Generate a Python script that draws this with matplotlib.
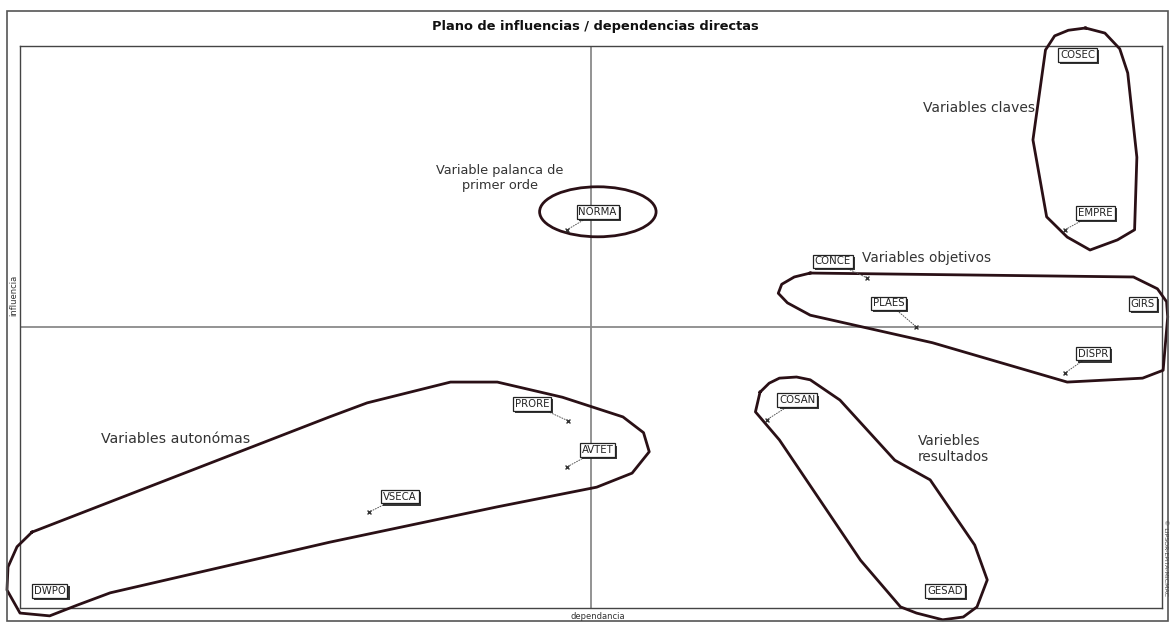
# Plano de influencias / dependencias directas (tipo MICMAC)
import matplotlib.pyplot as plt
import matplotlib.patheffects as pe
from matplotlib.patches import Ellipse, Rectangle

# Variables y su posición (dependencia, influencia) en % de la escala
variables = ["COSEC", "EMPRE", "NORMA", "CONCE", "PLAES", "GIRS", "DISPR",
             "COSAN", "GESAD", "PRORE", "AVTET", "VSECA", "DWPO"]
dependencia = [92.6, 91.5, 47.9, 74.2, 78.5, 98.3, 91.5, 65.4, 81.0, 48.0, 47.9, 30.6, 2.6]
influencia = [98.4, 67.3, 67.3, 58.7, 50.0, 54.1, 41.8, 33.5, 3.0, 33.3, 25.1, 17.1, 3.0]

# desplazamiento de la etiqueta respecto al punto (en puntos)
desplaz = [(0, 0), (22, 12), (22, 13), (-25, 12), (-20, 17), (0, 0), (20, 14),
           (22, 14), (0, 0), (-26, 12), (22, 12), (22, 11), (0, 0)]

# Contornos de los grupos (dibujados a mano en el original)
claves_x = [93.3, 95.0, 96.3, 97.0, 97.8, 97.6, 96.1, 93.7, 91.7, 89.9, 88.7, 89.8, 90.6, 91.8, 93.3]
claves_y = [103.2, 102.3, 99.5, 95.2, 80.2, 67.3, 65.5, 63.7, 66.0, 69.6, 83.3, 99.3, 101.8, 102.8, 103.2]

objetivos_x = [69.2, 97.5, 99.6, 100.4, 100.5, 100.1, 98.3, 91.7, 79.9, 69.2, 67.2, 66.4, 66.7, 67.8, 69.2]
objetivos_y = [59.6, 58.9, 56.8, 54.5, 51.8, 42.3, 40.9, 40.2, 47.2, 52.1, 54.3, 56.0, 57.6, 58.9, 59.6]

autonomas_x = [1.05, -0.26, -1.05, -1.14, 0.0, 2.6, 5.0, 7.9, 27.1, 41.8, 50.5, 53.6,
               55.1, 54.6, 52.8, 47.5, 41.8, 37.7, 30.4, 27.1, 1.05]
autonomas_y = [13.5, 10.9, 7.3, 3.2, -0.9, -1.4, 0.5, 2.7, 11.7, 18.0, 21.5, 24.0,
               27.8, 31.2, 34.0, 37.5, 40.2, 40.2, 36.5, 34.0, 13.5]

resultados_x = [64.8, 65.6, 66.5, 68.0, 69.2, 71.8, 76.6, 79.7, 83.6, 84.7, 83.8, 82.6, 80.8,
                78.5, 77.1, 73.6, 66.5, 64.4, 64.8]
resultados_y = [38.4, 40.0, 40.9, 41.1, 40.6, 37.0, 26.3, 22.8, 11.2, 5.0, 0.2, -1.6, -2.1,
                -0.9, 0.2, 8.5, 29.9, 34.9, 38.4]

# elipse de la variable palanca (centro, ancho, alto)
palanca_centro = (50.6, 70.5)
palanca_tam = (10.2, 8.9)

color_contorno = "#2a1016"
color_texto = "#333333"

fig = plt.figure(figsize=(11.72, 6.23), dpi=100)
fig.patch.set_facecolor("white")

# marco exterior
fig.patches.append(Rectangle((0.006, 0.003), 0.991, 0.979, transform=fig.transFigure,
                             fill=False, ec="#555555", lw=1.2))

ax = fig.add_axes([0.01706, 0.02408, 0.97440, 0.90209])
ax.set_xlim(0, 100)
ax.set_ylim(0, 100)
ax.set_xticks([])
ax.set_yticks([])
for s in ax.spines.values():
    s.set_color("#444444")
    s.set_linewidth(1.0)

# ejes centrales
ax.axvline(50, color="#8a8a8a", lw=1.3, zorder=1)
ax.axhline(50, color="#8a8a8a", lw=1.3, zorder=1)

# contornos de los grupos
for cx, cy in [(claves_x, claves_y), (objetivos_x, objetivos_y),
               (autonomas_x, autonomas_y), (resultados_x, resultados_y)]:
    ax.plot(cx, cy, color=color_contorno, lw=2.0, solid_joinstyle="round",
            clip_on=False, zorder=3)
ax.add_patch(Ellipse(palanca_centro, palanca_tam[0], palanca_tam[1], fill=False,
                     ec=color_contorno, lw=2.0, zorder=3))

# puntos y etiquetas
ax.scatter(dependencia, influencia, s=8, color="#333333", marker="x", lw=1, zorder=4)
for nombre, x, y, (dx, dy) in zip(variables, dependencia, influencia, desplaz):
    flecha = None
    if (dx, dy) != (0, 0):
        flecha = dict(arrowstyle="-", lw=0.7, color="#555555", ls=":",
                      shrinkA=0, shrinkB=1)
    t = ax.annotate(nombre, xy=(x, y), xytext=(dx, dy), textcoords="offset points",
                    ha="center", va="center", fontsize=7.3, color="#222222",
                    bbox=dict(boxstyle="square,pad=0.18", fc="white", ec="#222222", lw=0.9),
                    arrowprops=flecha, zorder=5, annotation_clip=False)
    t.get_bbox_patch().set_path_effects([
        pe.withSimplePatchShadow(offset=(1.5, -1.5), shadow_rgbFace="#222222", alpha=0.9)])

# nombres de los grupos
ax.text(88.9, 88.9, "Variables claves", fontsize=10, color=color_texto, ha="right", va="center")
ax.text(42.0, 76.5, "Variable palanca de\nprimer orde", fontsize=9.3, color=color_texto,
        ha="center", va="center", linespacing=1.25)
ax.text(79.4, 62.3, "Variables objetivos", fontsize=9.8, color=color_texto, ha="center", va="center")
ax.text(13.6, 30.1, "Variables autonómas", fontsize=10.2, color=color_texto, ha="center", va="center")
ax.text(78.6, 28.3, "Variebles\nresultados", fontsize=9.8, color=color_texto,
        ha="left", va="center", linespacing=1.2)

# títulos y rótulos de ejes
fig.text(0.508, 0.958, "Plano de influencias / dependencias directas", fontsize=9.4,
         fontweight="bold", ha="center", va="center", color="#111111")
fig.text(0.510, 0.011, "dependancia", fontsize=6, ha="center", va="center", color="#333333")
fig.text(0.0115, 0.526, "influencia", fontsize=6, rotation=90, ha="center", va="center",
         color="#333333")
fig.text(0.9945, 0.105, "© LIPSOR-EPITA-MICMAC", fontsize=4.5, rotation=270,
         ha="center", va="center", color="#444444")

plt.savefig("out.png", dpi=100)
